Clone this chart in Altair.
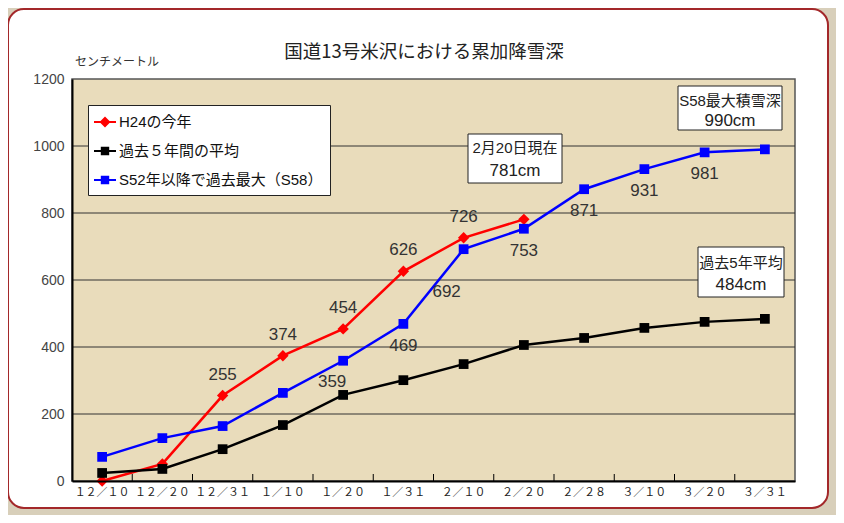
import altair as alt
import pandas as pd

# ---------------- data ----------------
dates = ["１２／１０", "１２／２０", "１２／３１", "１／１０", "１／２０", "１／３１",
         "２／１０", "２／２０", "２／２８", "３／１０", "３／２０", "３／３１"]
series_names = ["H24の今年", "過去５年間の平均", "S52年以降で過去最大（S58）"]
h24_vals = [0, 51, 255, 374, 454, 626, 726, 781]
avg_vals = [24, 36, 95, 167, 257, 301, 349, 406, 427, 457, 475, 484]
max_vals = [72, 128, 164, 263, 359, 469, 692, 753, 871, 931, 981, 990]
y_ticks = [0, 200, 400, 600, 800, 1000, 1200]
grid_vals = [200, 400, 600, 800, 1000]
series_colors = ["#ff0000", "#000000", "#0000ff"]

h24_label_dates = dates[2:7]
max_label_dates_below = [dates[5], dates[7], dates[8], dates[9], dates[10]]
max_label_dates_left = [dates[4]]
max_label_dates_far = [dates[6]]

title_text = "国道13号米沢における累加降雪深"
unit_text = "センチメートル"
note_heads = ["2月20日現在", "S58最大積雪深", "過去5年平均"]
note_values = ["781cm", "990cm", "484cm"]

# ---------------- tables ----------------
rows = []
for s, vals in zip(series_names, [h24_vals, avg_vals, max_vals]):
    for i, (d, v) in enumerate(zip(dates, vals)):
        rows.append({"date": d, "idx": i, "series": s, "value": v})
df = pd.DataFrame(rows)
grid_df = pd.DataFrame({"value": grid_vals})
tick_df = pd.DataFrame({"date": dates[1:]})
one = pd.DataFrame({"a": [0]})

W, H = 723, 402
JP = "Liberation Sans, 'Noto Sans CJK JP'"

x_axis = alt.Axis(ticks=False, grid=False, domainColor="#000", domainWidth=2,
                  labelFont="Noto Sans CJK JP", labelFontSize=11, labelColor="#222",
                  labelPadding=5, labelAngle=0, zindex=1)
y_axis = alt.Axis(values=y_ticks, format="d", ticks=False, grid=False, domainColor="#000",
                  domainWidth=2, labelFont="Liberation Sans", labelFontSize=14,
                  labelColor="#444", labelPadding=8, zindex=1)
x_scale = alt.Scale(type="band", domain=dates, paddingInner=0, paddingOuter=0)
y_scale = alt.Scale(domain=[0, 1200], nice=False)


def xenc(band=0.5):
    return alt.X("date:N", scale=x_scale, axis=x_axis, title=None, bandPosition=band)


def yenc():
    return alt.Y("value:Q", scale=y_scale, axis=y_axis, title=None)


layers = []

# white rounded panel
layers.append(alt.Chart(one).mark_rect(fill="white", stroke="#a3282a", strokeWidth=2,
                                       cornerRadius=16).encode(
    x=alt.value(-64), x2=alt.value(756), y=alt.value(-70), y2=alt.value(429)))
# plot background
layers.append(alt.Chart(one).mark_rect(fill="#e9dcbb", stroke="#555", strokeWidth=1.5).encode(
    x=alt.value(0), x2=alt.value(W), y=alt.value(0), y2=alt.value(H)))
# grid lines
layers.append(alt.Chart(grid_df).mark_rule(color="#333", strokeWidth=1).encode(
    y=yenc(), x=alt.value(0), x2=alt.value(W)))
# inner ticks
layers.append(alt.Chart(tick_df).mark_rule(color="#000", strokeWidth=1).encode(
    x=xenc(band=0), y=alt.value(H), y2=alt.value(H - 7)))

# lines and markers
for s, c in zip(series_names, series_colors):
    sub = df[df["series"] == s]
    layers.append(alt.Chart(sub).mark_line(color=c, strokeWidth=2.5).encode(
        x=xenc(), y=yenc(), order=alt.Order("idx:Q")))
for s, c, shp, sz in zip(series_names, series_colors, ["diamond", "square", "square"], [130, 95, 95]):
    sub = df[df["series"] == s]
    layers.append(alt.Chart(sub).mark_point(filled=True, opacity=1, color=c, shape=shp, size=sz).encode(
        x=xenc(), y=yenc()))


# value labels
def labels(series, dlist, dx, dy):
    sub = df[(df["series"] == series) & (df["date"].isin(dlist))]
    return alt.Chart(sub).mark_text(font="Liberation Sans", fontSize=17, color="#333",
                                    dx=dx, dy=dy, baseline="middle").encode(
        x=xenc(), y=yenc(), text="value:Q")


layers.append(labels(series_names[0], h24_label_dates, 0, -21))
layers.append(labels(series_names[2], max_label_dates_below, 0, 22))
layers.append(labels(series_names[2], max_label_dates_left, -11, 21))
layers.append(labels(series_names[2], max_label_dates_far, -17, 43))

# annotation boxes
boxes = [(396, 490, 55, 104, 69, 92), (606, 710, 7, 51, 22, 42), (626, 712, 168, 218, 184, 206)]
for (x1, x2, y1, y2, l1, l2), head, val in zip(boxes, note_heads, note_values):
    layers.append(alt.Chart(one).mark_rect(fill="white", stroke="#222", strokeWidth=1).encode(
        x=alt.value(x1), x2=alt.value(x2), y=alt.value(y1), y2=alt.value(y2)))
    layers.append(alt.Chart(one).mark_text(font=JP, fontSize=15, color="#222",
                                           baseline="middle", align="center").encode(
        x=alt.value((x1 + x2) / 2), y=alt.value(l1), text=alt.value(head)))
    layers.append(alt.Chart(one).mark_text(font="Liberation Sans", fontSize=17, color="#222",
                                           baseline="middle", align="center").encode(
        x=alt.value((x1 + x2) / 2), y=alt.value(l2), text=alt.value(val)))

# title and unit label
layers.append(alt.Chart(one).mark_text(font="Noto Sans CJK JP", fontSize=18.5, color="#222",
                                       align="center", baseline="middle").encode(
    x=alt.value(352), y=alt.value(-27), text=alt.value(title_text)))
layers.append(alt.Chart(one).mark_text(font="Noto Sans CJK JP", fontSize=12, color="#333",
                                       align="left", baseline="middle").encode(
    x=alt.value(3), y=alt.value(-17), text=alt.value(unit_text)))

# legend-only layer
path_d = "M-1.1,-0.1H1.1V0.1H-1.1Z M0,-0.55L0.55,0L0,0.55L-0.55,0Z"
path_s = "M-1.1,-0.1H1.1V0.1H-1.1Z M-0.42,-0.42H0.42V0.42H-0.42Z"
leg_df = pd.DataFrame({"series": series_names})
legend = alt.Legend(orient="none", legendX=16, legendY=26, title=None, fillColor="white",
                    strokeColor="#222", padding=7, rowPadding=11, symbolSize=400,
                    symbolStrokeWidth=0, labelFont=JP, labelFontSize=15, labelColor="#111",
                    labelOffset=4, labelLimit=400, symbolOpacity=1)
layers.append(alt.Chart(leg_df).mark_point(filled=True, size=400).encode(
    color=alt.Color("series:N", scale=alt.Scale(domain=series_names, range=series_colors),
                    legend=legend),
    shape=alt.Shape("series:N", scale=alt.Scale(domain=series_names, range=[path_d, path_s, path_s]),
                    legend=legend),
    opacity=alt.value(0),
))

chart = alt.layer(*layers).properties(
    width=W, height=H,
    autosize=alt.AutoSizeParams(type="none"),
    padding={"left": 64, "top": 71, "right": 41, "bottom": 34},
    background="#d8cfba",
).configure_view(stroke=None, fill=None)

chart.save("out.html", embed_options={"renderer": "svg", "actions": False})
